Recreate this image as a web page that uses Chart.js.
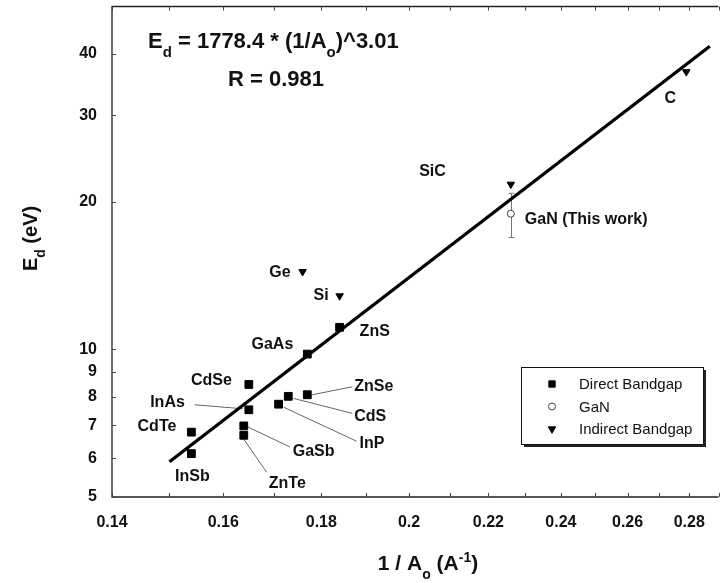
<!DOCTYPE html>
<html>
<head>
<meta charset="utf-8">
<script src="https://cdn.jsdelivr.net/npm/chart.js@4/dist/chart.umd.min.js"></script>
<style>
  html,body{margin:0;padding:0;background:#fff;}
  #wrap{width:725px;height:583px;position:relative;}
</style>
</head>
<body>
<div id="wrap"><canvas id="c" width="725" height="583"></canvas></div>
<script>
// ---- data ----
const directNames = ['CdTe','InSb','CdSe','InAs','GaSb','ZnTe','InP','CdS','ZnSe','GaAs','ZnS'];
const directX     = [0.154, 0.154, 0.165, 0.165, 0.164, 0.164, 0.171, 0.173, 0.177, 0.177, 0.184];
const directY     = [6.78,  6.13,  8.48,  7.53,  6.98,  6.68,  7.73,  8.02,  8.08,  9.78,  11.09];

const indirectNames = ['Ge','Si','SiC','C'];
const indirectX     = [0.176, 0.184, 0.226, 0.279];
const indirectY     = [14.4,  12.85, 21.7,  36.8];

const ganNames = ['GaN (This work)'];
const ganX     = [0.226];
const ganY     = [18.9];
const ganErrLow  = [16.9];
const ganErrHigh = [20.8];

const fitX = [0.150, 0.287];
const fitY = [5.9, 41.5];

const xTickValues  = [0.14,0.15,0.16,0.17,0.18,0.19,0.20,0.21,0.22,0.23,0.24,0.25,0.26,0.27,0.28,0.29];
const xLabelValues = [0.14,0.16,0.18,0.20,0.22,0.24,0.26,0.28];
const yTickValues  = [5,6,7,8,9,10,20,30,40];

const seriesNames = ['Direct Bandgap','GaN','Indirect Bandgap'];

// ---- label placement (pixel offsets from the point, style only) ----
const labelPlacement = {
  'CdTe': {dx:-15, dy:-6, align:'right'},
  'InSb': {dx:1,   dy:23, align:'center'},
  'CdSe': {dx:-17, dy:-4, align:'right'},
  'InAs': {dx:-64, dy:-7, align:'right', leader:[-54,-5,-6,-1]},
  'GaSb': {dx:49,  dy:26, align:'left',  leader:[4,1,46,21]},
  'ZnTe': {dx:25,  dy:48, align:'left',  leader:[0,4,23,37]},
  'InP':  {dx:81,  dy:39, align:'left',  leader:[5,3,78,37]},
  'CdS':  {dx:66,  dy:20, align:'left',  leader:[5,2,64,17]},
  'ZnSe': {dx:47,  dy:-8, align:'left',  leader:[5,0,45,-8]},
  'GaAs': {dx:-14, dy:-9, align:'right'},
  'ZnS':  {dx:20,  dy:4,  align:'left'},
  'Ge':   {dx:-12, dy:1,  align:'right'},
  'Si':   {dx:-11, dy:0,  align:'right'},
  'SiC':  {dx:-65, dy:-13,align:'right'},
  'C':    {dx:-16, dy:27, align:'center'},
  'GaN (This work)': {dx:14, dy:6, align:'left'}
};

const FONT = "'Liberation Sans', Arial, Helvetica, sans-serif";

function pts(xs, ys){ return xs.map((x,i)=>({x:x, y:ys[i]})); }

function drawRich(ctx, segs, x, y, align){
  let total = 0;
  const widths = segs.map(s=>{ ctx.font = s[2]; const w = ctx.measureText(s[0]).width; total += w; return w; });
  let cx = align === 'center' ? x - total/2 : x;
  segs.forEach((s,i)=>{
    ctx.font = s[2];
    const off = s[1] === 'sub' ? s[3] : (s[1] === 'sup' ? -s[3] : 0);
    ctx.fillText(s[0], cx, y + off);
    cx += widths[i];
  });
}

const decorPlugin = {
  id: 'decor',
  beforeDatasetsDraw(chart){
    const ctx = chart.ctx, xs = chart.scales.x, ys = chart.scales.y, a = chart.chartArea;
    ctx.save();
    ctx.strokeStyle = '#222'; ctx.lineWidth = 1.3;
    ctx.beginPath();
    ctx.moveTo(a.right, a.top); ctx.lineTo(a.left, a.top); ctx.lineTo(a.left, a.bottom); ctx.lineTo(a.right, a.bottom);
    ctx.stroke();
    ctx.lineWidth = 1; ctx.strokeStyle = '#444';
    ctx.beginPath();
    xTickValues.forEach(v=>{
      const px = Math.round(xs.getPixelForValue(v)) + 0.5;
      ctx.moveTo(px, a.bottom); ctx.lineTo(px, a.bottom - 4);
      ctx.moveTo(px, a.top); ctx.lineTo(px, a.top + 4);
    });
    yTickValues.forEach(v=>{
      const py = Math.round(ys.getPixelForValue(v)) + 0.5;
      ctx.moveTo(a.left, py); ctx.lineTo(a.left + 4, py);
    });
    ctx.stroke();
    ctx.strokeStyle = '#666'; ctx.lineWidth = 1;
    ctx.beginPath();
    directNames.forEach((n,i)=>{
      const p = labelPlacement[n];
      if (!p || !p.leader) return;
      const px = xs.getPixelForValue(directX[i]), py = ys.getPixelForValue(directY[i]);
      ctx.moveTo(px + p.leader[0], py + p.leader[1]);
      ctx.lineTo(px + p.leader[2], py + p.leader[3]);
    });
    ctx.stroke();
    ctx.strokeStyle = '#777'; ctx.lineWidth = 1;
    ctx.beginPath();
    ganX.forEach((gx,i)=>{
      const px = Math.round(xs.getPixelForValue(gx)) + 0.5;
      const yl = ys.getPixelForValue(ganErrLow[i]), yh = ys.getPixelForValue(ganErrHigh[i]);
      ctx.moveTo(px, yl); ctx.lineTo(px, yh);
      ctx.moveTo(px - 3, yl); ctx.lineTo(px + 3, yl);
      ctx.moveTo(px - 3, yh); ctx.lineTo(px + 3, yh);
    });
    ctx.stroke();
    ctx.restore();
  },
  afterDatasetsDraw(chart){
    const ctx = chart.ctx, xs = chart.scales.x, ys = chart.scales.y;
    ctx.save();
    ctx.fillStyle = '#111';
    ctx.textBaseline = 'middle';
    ctx.font = 'bold 16px ' + FONT;
    const groups = [[directNames,directX,directY],[indirectNames,indirectX,indirectY],[ganNames,ganX,ganY]];
    groups.forEach(g=>{
      g[0].forEach((n,i)=>{
        const p = labelPlacement[n] || {dx:8,dy:0,align:'left'};
        const px = xs.getPixelForValue(g[1][i]), py = ys.getPixelForValue(g[2][i]);
        ctx.textAlign = p.align;
        ctx.fillText(n, px + p.dx, py + p.dy);
      });
    });

    ctx.textAlign = 'left'; ctx.textBaseline = 'alphabetic';
    const big = 'bold 22px ' + FONT, small = 'bold 15px ' + FONT;
    drawRich(ctx, [['E','n',big],['d','sub',small,9],[' = 1778.4 * (1/A','n',big],['o','sub',small,9],[')^3.01','n',big]], 148, 48, 'left');
    ctx.font = big;
    ctx.fillText('R = 0.981', 228, 86);

    const tb = 'bold 21px ' + FONT, ts = 'bold 14px ' + FONT;
    drawRich(ctx, [['1 / A','n',tb],['o','sub',ts,9],[' (A','n',tb],['-1','sup',ts,8],[')','n',tb]], 428, 570, 'center');
    ctx.save();
    ctx.translate(37, 238.5);
    ctx.rotate(-Math.PI/2);
    drawRich(ctx, [['E','n','bold 20px ' + FONT],['d','sub','bold 14px ' + FONT,8],[' (eV)','n','bold 20px ' + FONT]], 0, 0, 'center');
    ctx.restore();

    const L = 521, T = 367, R = 703, B = 444;
    ctx.fillStyle = '#222';
    ctx.fillRect(L + 3, T + 3, R - L, B - T);
    ctx.fillStyle = '#fff';
    ctx.fillRect(L, T, R - L, B - T);
    ctx.strokeStyle = '#111'; ctx.lineWidth = 1;
    ctx.strokeRect(L + 0.5, T + 0.5, R - L, B - T);
    const rows = [384, 406.5, 429];
    ctx.font = '15px ' + FONT;
    ctx.textBaseline = 'middle';
    ctx.textAlign = 'left';
    chart.data.datasets.slice(0,3).forEach((ds,i)=>{
      const opts = {pointStyle: ds.pointStyle, rotation: ds.rotation || 0, radius: ds.legendRadius, borderWidth: ds.borderWidth};
      ctx.fillStyle = ds.backgroundColor; ctx.strokeStyle = ds.borderColor; ctx.lineWidth = ds.borderWidth;
      Chart.helpers.drawPoint(ctx, opts, 552, rows[i]);
      ctx.fillStyle = '#111';
      ctx.fillText(ds.label, 579, rows[i] + 1);
    });
    ctx.restore();
  }
};

new Chart(document.getElementById('c'), {
  type: 'scatter',
  data: {
    datasets: [
      {label: seriesNames[0], data: pts(directX, directY), pointStyle:'rect', pointRadius:5.5, legendRadius:4.5,
       backgroundColor:'#000', borderColor:'#000', borderWidth:1},
      {label: seriesNames[1], data: pts(ganX, ganY), pointStyle:'circle', pointRadius:3.5, legendRadius:3.5,
       backgroundColor:'#fff', borderColor:'#444', borderWidth:1},
      {label: seriesNames[2], data: pts(indirectX, indirectY), pointStyle:'triangle', rotation:180, pointRadius:4.3, legendRadius:4.3,
       backgroundColor:'#000', borderColor:'#000', borderWidth:1},
      {label: 'fit', type:'line', data: pts(fitX, fitY), showLine:true, borderColor:'#000', borderWidth:3.3,
       pointRadius:0, fill:false, tension:0}
    ]
  },
  options: {
    responsive: false,
    animation: false,
    events: [],
    layout: {padding: {left:0, right:4, top:5, bottom:0}},
    plugins: {legend: {display:false}, tooltip: {enabled:false}},
    scales: {
      x: {
        type: 'logarithmic', position:'bottom', min: 0.14, max: 0.29,
        grid: {display:false, drawTicks:false}, border: {display:false},
        afterBuildTicks(s){ s.ticks = xTickValues.map(v=>({value:v})); },
        afterFit(s){ s.height = 86; s.paddingLeft = 0; s.paddingRight = 0; },
        ticks: {
          autoSkip:false, maxRotation:0, minRotation:0, padding: 16, color:'#111',
          font: {family: FONT, size: 16, weight: 'bold'},
          callback(v){ const m = xLabelValues.find(l=>Math.abs(l - v) < 1e-9); return m === undefined ? '' : String(Number(m.toFixed(2))); }
        }
      },
      y: {
        type: 'logarithmic', position:'left', min: 5, max: 50,
        grid: {display:false, drawTicks:false}, border: {display:false},
        afterBuildTicks(s){ s.ticks = yTickValues.map(v=>({value:v})); },
        afterFit(s){ s.width = 112; s.paddingTop = 0; s.paddingBottom = 0; },
        ticks: {
          autoSkip:false, padding: 15, color:'#111',
          font: {family: FONT, size: 16, weight: 'bold'},
          callback(v){ return yTickValues.includes(v) ? String(v) : ''; }
        }
      }
    }
  },
  plugins: [decorPlugin]
});
</script>
</body>
</html>
